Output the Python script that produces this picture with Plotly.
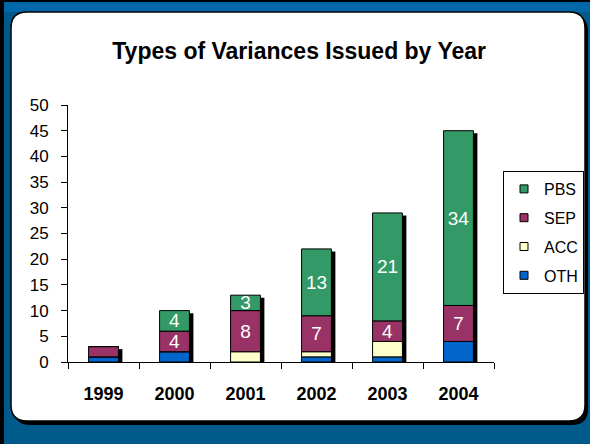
import plotly.graph_objects as go

# ---- data ----
years = ["1999", "2000", "2001", "2002", "2003", "2004"]
oth = [1, 2, 0, 1, 1, 4]
acc = [0, 0, 2, 1, 3, 0]
sep = [2, 4, 8, 7, 4, 7]
pbs = [0, 4, 3, 13, 21, 34]

series_names = ["OTH", "ACC", "SEP", "PBS"]
series_values = [oth, acc, sep, pbs]
series_colors = ["#0066CC", "#FFFFCC", "#993366", "#339966"]
labelled_series = ["SEP", "PBS"]
label_min = 3
y_ticks = list(range(0, 51, 5))

W, H = 590, 444
FONT = "Liberation Sans, Arial, sans-serif"

fig = go.Figure()

# cumulative bases
bases = []
running = [0] * len(years)
for vals in series_values:
    bases.append(list(running))
    running = [r + v for r, v in zip(running, vals)]
totals = running

BW = 0.42
# drop shadow behind each stacked column
fig.add_trace(go.Bar(
    x=years, y=[t - 0.5 for t in totals], width=BW, offset=-BW / 2 + 0.056,
    marker=dict(color="black", line=dict(width=0)), showlegend=False, hoverinfo="skip"))

for name, vals, base, col in zip(series_names, series_values, bases, series_colors):
    if name in labelled_series:
        txt = [str(v) if v >= label_min else "" for v in vals]
    else:
        txt = ["" for v in vals]
    fig.add_trace(go.Bar(
        x=years, y=vals, base=base, name=name, width=BW,
        marker=dict(color=col, line=dict(color="black", width=1)),
        text=txt, textposition="inside", insidetextanchor="middle", textangle=0,
        textfont=dict(family=FONT, size=19, color="white"),
        showlegend=False))

# legend proxies (small square swatches)
for name, col in reversed(list(zip(series_names, series_colors))):
    fig.add_trace(go.Scatter(
        x=[None], y=[None], mode="markers", name=name, legendgroup=name,
        marker=dict(symbol="square", size=8, color=col, line=dict(color="black", width=1))))


def px(x):
    return x / W


def py(y):
    return 1 - y / H


def rrect(x0, y0, x1, y1, r):
    rx, ry = r / W, r / H
    X0, X1, Y0, Y1 = px(x0), px(x1), py(y0), py(y1)
    return (f"M{X0 + rx},{Y0} L{X1 - rx},{Y0} Q{X1},{Y0} {X1},{Y0 - ry} "
            f"L{X1},{Y1 + ry} Q{X1},{Y1} {X1 - rx},{Y1} L{X0 + rx},{Y1} "
            f"Q{X0},{Y1} {X0},{Y1 + ry} L{X0},{Y0 - ry} Q{X0},{Y0} {X0 + rx},{Y0} Z")


shapes = [
    dict(type="rect", xref="paper", yref="paper", x0=0, x1=1, y0=py(2), y1=1,
         fillcolor="black", line=dict(width=0), layer="below"),
    dict(type="rect", xref="paper", yref="paper", x0=px(4), x1=1, y0=py(12), y1=py(2),
         fillcolor="#0068A8", line=dict(width=0), layer="below"),
    dict(type="rect", xref="paper", yref="paper", x0=0, x1=px(4), y0=0, y1=1,
         fillcolor="black", line=dict(width=0), layer="below"),
    dict(type="path", xref="paper", yref="paper", path=rrect(14, 15, 588, 425, 16),
         fillcolor="black", line=dict(width=0), layer="below"),
    dict(type="path", xref="paper", yref="paper", path=rrect(11, 12, 585, 421, 16),
         fillcolor="white", line=dict(color="black", width=1.5), layer="below"),
]

fig.update_layout(
    width=W, height=H,
    margin=dict(l=0, r=0, t=0, b=0, autoexpand=False),
    paper_bgcolor="#005A8C",
    plot_bgcolor="#C0C0C0",
    barmode="overlay",
    uniformtext=dict(minsize=19, mode="show"),
    shapes=shapes,
    font=dict(family=FONT, color="black"),
    title=dict(text="<b>Types of Variances Issued by Year</b>", x=0.507, xanchor="center",
               y=py(51), yanchor="middle", yref="container",
               font=dict(family=FONT, size=23, color="black")),
    xaxis=dict(domain=[px(68), px(494)], type="category", range=[-0.5, 5.5],
               showline=True, linecolor="black", linewidth=1, mirror=False,
               ticks="outside", tickson="boundaries", ticklen=6, tickcolor="black",
               ticklabelstandoff=15, showgrid=False, zeroline=False,
               tickfont=dict(family=FONT, size=18, color="black", weight="bold")),
    yaxis=dict(domain=[py(362), py(105)], range=[0, 50], tickvals=y_ticks,
               showline=True, linecolor="black", linewidth=1,
               ticks="outside", ticklen=6, tickcolor="black", ticklabelstandoff=9,
               showgrid=False, zeroline=False,
               tickfont=dict(family=FONT, size=17, color="black")),
    legend=dict(x=px(503), y=py(171), xanchor="left", yanchor="top",
                bgcolor="white", bordercolor="black", borderwidth=1,
                traceorder="grouped", tracegroupgap=5, itemwidth=30,
                font=dict(family=FONT, size=16, color="black")),
    showlegend=True,
)

fig.write_html("out.html", config={"displayModeBar": False},
               post_script="document.body.style.margin='0px';")
